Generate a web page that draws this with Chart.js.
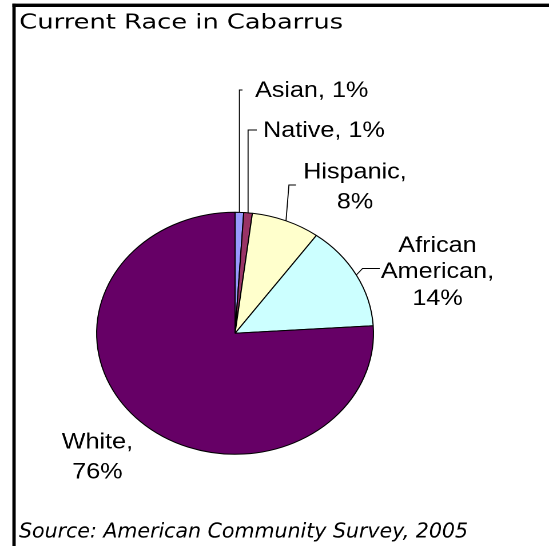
<!DOCTYPE html>
<html><head><meta charset="utf-8">
<script src="https://cdn.jsdelivr.net/npm/chart.js@4/dist/chart.umd.min.js"></script>
<style>
html,body{margin:0;padding:0;background:#fff;overflow:hidden;}
#wrap{position:absolute;left:0;top:0;width:480px;height:546px;transform:scaleX(1.14375);transform-origin:0 0;}
canvas{display:block;}
</style></head><body>
<div id="wrap"><canvas id="c" width="480" height="546"></canvas></div>
<script>
// ---- data ----
const titleText = 'Current Race in Cabarrus';
const sourceText = 'Source: American Community Survey, 2005';
const categories = ['Asian', 'Native', 'Hispanic', 'African American', 'White'];
const values = [1, 1, 8, 14, 76];
const colors = ['#9999FF', '#993366', '#FFFFCC', '#CCFFFF', '#660066'];

// ---- layout (unscaled coordinates) ----
const labelLayout = [
  {multi:false, x:223, base:[97], align:'left', leader:[[null,90],[212,90]]},
  {multi:false, x:230, base:[137], align:'left', leader:[[null,130],[224.5,130]]},
  {multi:true, x:310.4, base:[178.3,208.3], align:'center', leader:[[252.6,185],[258.8,185]]},
  {multi:true, x:382.5, base:[252,278,305], align:'center', leader:[[317,268.5],[332,268.5]]},
  {multi:true, x:85.2, base:[448.3,478.3], align:'center', leader:null}
];

function labelLines(i) {
  const name = categories[i], val = values[i] + '%';
  if (!labelLayout[i].multi) return [name + ', ' + val];
  const words = name.split(' ');
  words[words.length - 1] += ',';
  return words.concat([val]);
}

const framePlugin = {
  id: 'frame',
  beforeDraw(chart) {
    const ctx = chart.ctx;
    ctx.save();
    ctx.fillStyle = '#fff';
    ctx.fillRect(0, 0, chart.width, chart.height);
    ctx.fillStyle = '#000';
    ctx.fillRect(10.8, 3.6, 480, 3.4);
    ctx.fillRect(10.8, 3.6, 2.9, 546);
    // title
    ctx.font = '20.5px "DejaVu Sans"';
    ctx.textBaseline = 'alphabetic';
    ctx.textAlign = 'left';
    let w = ctx.measureText(titleText).width;
    ctx.save();
    ctx.translate(16.9, 28.3);
    ctx.scale(283 / w, 1);
    ctx.fillText(titleText, 0, 0);
    ctx.restore();
    // source
    ctx.font = 'italic 20.5px "DejaVu Sans"';
    w = ctx.measureText(sourceText).width;
    ctx.save();
    ctx.translate(16.6, 537.3);
    ctx.scale(392.6 / w, 1);
    ctx.fillText(sourceText, 0, 0);
    ctx.restore();
    ctx.restore();
  },
  afterDraw(chart) {
    const ctx = chart.ctx;
    const arcs = chart.getDatasetMeta(0).data;
    ctx.save();
    ctx.font = '22px "Liberation Sans", Arial, sans-serif';
    ctx.fillStyle = '#000';
    ctx.textBaseline = 'alphabetic';
    arcs.forEach((arc, i) => {
      const L = labelLayout[i];
      const p = arc.getProps(['x','y','startAngle','endAngle','outerRadius'], true);
      const mid = (p.startAngle + p.endAngle) / 2;
      const sx = p.x + Math.cos(mid) * p.outerRadius;
      const sy = p.y + Math.sin(mid) * p.outerRadius;
      if (L.leader) {
        ctx.beginPath();
        ctx.strokeStyle = '#000';
        ctx.lineWidth = 0.9;
        ctx.moveTo(sx, sy);
        L.leader.forEach(pt => ctx.lineTo(pt[0] === null ? sx : pt[0], pt[1]));
        ctx.stroke();
      }
      ctx.textAlign = L.align;
      labelLines(i).forEach((t, k) => ctx.fillText(t, L.x, L.base[k]));
    });
    ctx.restore();
  }
};

new Chart(document.getElementById('c'), {
  type: 'pie',
  data: {
    labels: categories,
    datasets: [{
      data: values,
      backgroundColor: colors,
      borderColor: '#000',
      borderWidth: 1
    }]
  },
  options: {
    responsive: false,
    animation: false,
    devicePixelRatio: 2,
    radius: 121,
    layout: {padding: {left: 84.5, right: 153.5, top: 212.3, bottom: 91.7}},
    plugins: {legend: {display: false}, tooltip: {enabled: false}, title: {display: false}}
  },
  plugins: [framePlugin]
});
</script>
</body></html>
